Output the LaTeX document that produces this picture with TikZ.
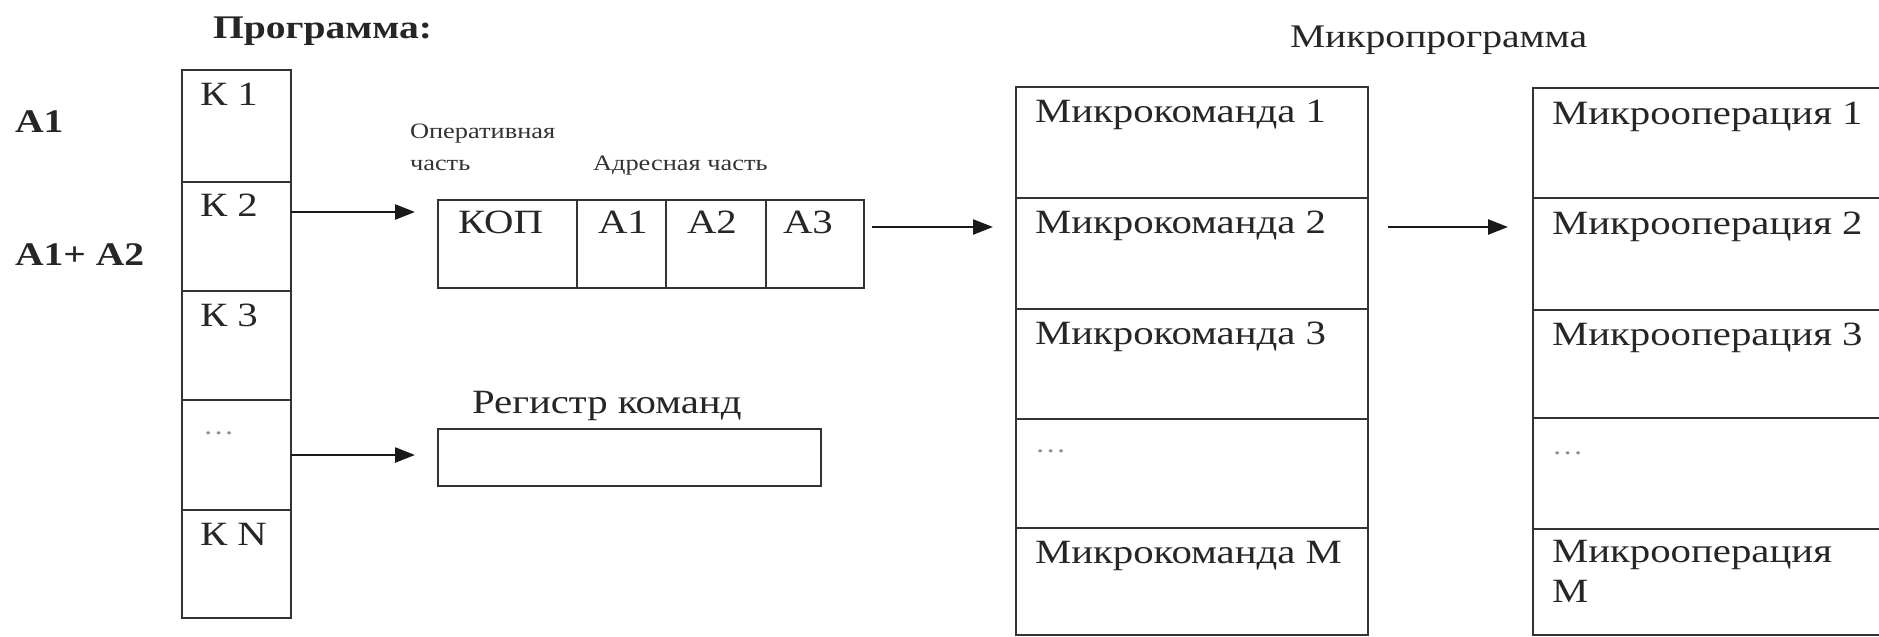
\documentclass[tikz,border=0pt]{standalone}
\usepackage{fontspec}
\setmainfont{Liberation Serif}[FakeStretch=1.2]
\usetikzlibrary{arrows.meta}
\tikzset{
  cellbox/.style={draw=black!80, line width=2.8pt, inner sep=0pt, outer sep=0pt, anchor=north west},
  txt/.style={anchor=base west, inner sep=0pt, outer sep=0pt, text=black!85, font=\fontsize{34}{40}\selectfont},
  smalltxt/.style={anchor=base west, inner sep=0pt, outer sep=0pt, text=black!80, font=\fontsize{22}{26}\selectfont},
  dotstxt/.style={anchor=base west, inner sep=0pt, outer sep=0pt, text=black!45, font=\fontsize{26}{26}\selectfont},
  conn/.style={draw=black!90, line width=2.4pt, -{Triangle[length=20pt,width=15pt]}}
}
\begin{document}
\begin{tikzpicture}[x=1pt,y=-1pt]
\useasboundingbox (0,0) rectangle (1879,637);
\clip (0,0) rectangle (1879,637);
\fill[white] (0,0) rectangle (1879,637);

% titles and left labels
\node[txt, font=\fontsize{33}{40}\selectfont\bfseries] (tprog) at (213,38) {Программа:};
\node[txt, font=\fontsize{33}{40}\selectfont\bfseries] (la1) at (15,132) {А1};
\node[txt, font=\fontsize{33}{40}\selectfont\bfseries] (la12) at (15,265) {А1+ А2};
\node[txt, font=\fontsize{33}{40}\selectfont] (tmicro) at (1290,47) {Микропрограмма};

% program column
\node[cellbox, minimum width=109pt, minimum height=112pt] (k1) at (182,70) {};
\node[cellbox, minimum width=109pt, minimum height=109pt] (k2) at (182,182) {};
\node[cellbox, minimum width=109pt, minimum height=109pt] (k3) at (182,291) {};
\node[cellbox, minimum width=109pt, minimum height=110pt] (kd) at (182,400) {};
\node[cellbox, minimum width=109pt, minimum height=108pt] (kn) at (182,510) {};
\node[txt] (tk1) at (200,105) {К 1};
\node[txt] (tk2) at (200,216) {К 2};
\node[txt] (tk3) at (200,326) {К 3};
\node[dotstxt] (tkd) at (203,434) {\ldots};
\node[txt] (tkn) at (200,545) {К N};

% instruction register
\node[smalltxt] (lop1) at (410,138) {Оперативная};
\node[smalltxt] (lop2) at (410,170) {часть};
\node[smalltxt] (ladr) at (593,170) {Адресная часть};
\node[cellbox, minimum width=139pt, minimum height=88pt] (kop) at (438,200) {};
\node[cellbox, minimum width=89pt, minimum height=88pt] (ra1) at (577,200) {};
\node[cellbox, minimum width=100pt, minimum height=88pt] (ra2) at (666,200) {};
\node[cellbox, minimum width=98pt, minimum height=88pt] (ra3) at (766,200) {};
\node[txt] (tkop) at (458,233) {КОП};
\node[txt] (tra1) at (598,233) {А1};
\node[txt] (tra2) at (687,233) {А2};
\node[txt] (tra3) at (783,233) {А3};

% command register
\node[txt] (treg) at (472,413) {Регистр команд};
\node[cellbox, minimum width=383pt, minimum height=57pt] (reg) at (438,429) {};

% microprogram column
\node[cellbox, minimum width=352pt, minimum height=111pt] (m1) at (1016,87) {};
\node[cellbox, minimum width=352pt, minimum height=111pt] (m2) at (1016,198) {};
\node[cellbox, minimum width=352pt, minimum height=110pt] (m3) at (1016,309) {};
\node[cellbox, minimum width=352pt, minimum height=109pt] (md) at (1016,419) {};
\node[cellbox, minimum width=352pt, minimum height=107pt] (mm) at (1016,528) {};
\node[txt] (tm1) at (1035,122) {Микрокоманда 1};
\node[txt] (tm2) at (1035,233) {Микрокоманда 2};
\node[txt] (tm3) at (1035,344) {Микрокоманда 3};
\node[dotstxt] (tmd) at (1035,452) {\ldots};
\node[txt] (tmm) at (1035,563) {Микрокоманда М};

% microoperation column (cut by right edge)
\node[cellbox, minimum width=380pt, minimum height=110pt] (o1) at (1533,88) {};
\node[cellbox, minimum width=380pt, minimum height=112pt] (o2) at (1533,198) {};
\node[cellbox, minimum width=380pt, minimum height=108pt] (o3) at (1533,310) {};
\node[cellbox, minimum width=380pt, minimum height=111pt] (od) at (1533,418) {};
\node[cellbox, minimum width=380pt, minimum height=106pt] (om) at (1533,529) {};
\node[txt] (to1) at (1552,124) {Микрооперация 1};
\node[txt] (to2) at (1552,234) {Микрооперация 2};
\node[txt] (to3) at (1552,345) {Микрооперация 3};
\node[dotstxt] (tod) at (1552,454) {\ldots};
\node[txt] (tom) at (1552,562) {Микрооперация};
\node[txt] (tom2) at (1552,602) {М};

% connectors
\coordinate (e1) at (415,212);
\coordinate (e2) at (415,455);
\coordinate (e3) at (993,227);
\coordinate (e4) at (1508,227);
\draw[conn] ([yshift=-30pt]k2.north east) -- (e1);
\draw[conn] ([yshift=-55pt]kd.north east) -- (e2);
\draw[conn] ([xshift=8pt,yshift=-27pt]ra3.north east) -- (e3);
\draw[conn] ([xshift=20pt,yshift=-29pt]m2.north east) -- (e4);
\end{tikzpicture}
\end{document}
